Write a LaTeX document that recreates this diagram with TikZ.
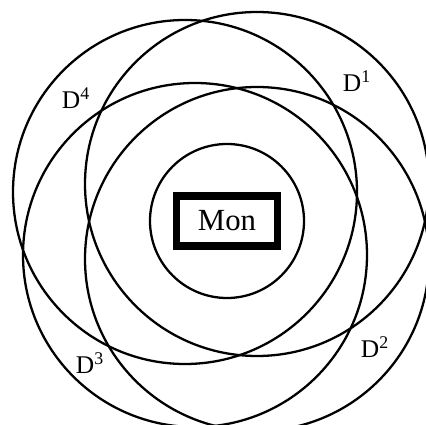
\documentclass[tikz,border=0pt]{standalone}
\usepackage{fontspec}
\setmainfont{Liberation Serif}

\begin{document}
\begin{tikzpicture}[
            x=0.02cm, y=-0.02cm,
            region/.style={draw, line width=1.3pt},
            dlabel/.style={inner sep=0pt, font=\fontsize{14.5}{16}\selectfont},
            monbox/.style={draw, line width=4.5pt, inner sep=0pt,
                minimum width=2.02cm, minimum height=1.0cm,
                font=\fontsize{17.5}{20}\selectfont}
        ]
            \useasboundingbox (0,0) rectangle (426,425);
            \clip (0,0) rectangle (426,425);

            \foreach \i/\x/\y in {1/257/184,2/257/259,3/195/255,4/185/192} {
                \draw[region] (\x,\y) circle [radius=172];
            }
            \draw[region] (227,221) circle [radius=77];

            \node[monbox] (mon) at (227,221) {Mon};

            \node[dlabel] (d1) at (357,81) {D\textsuperscript{1}};
            \node[dlabel] (d2) at (375,347) {D\textsuperscript{2}};
            \node[dlabel] (d3) at (90,363) {D\textsuperscript{3}};
            \node[dlabel] (d4) at (76,98) {D\textsuperscript{4}};

        \end{tikzpicture}
\end{document}
